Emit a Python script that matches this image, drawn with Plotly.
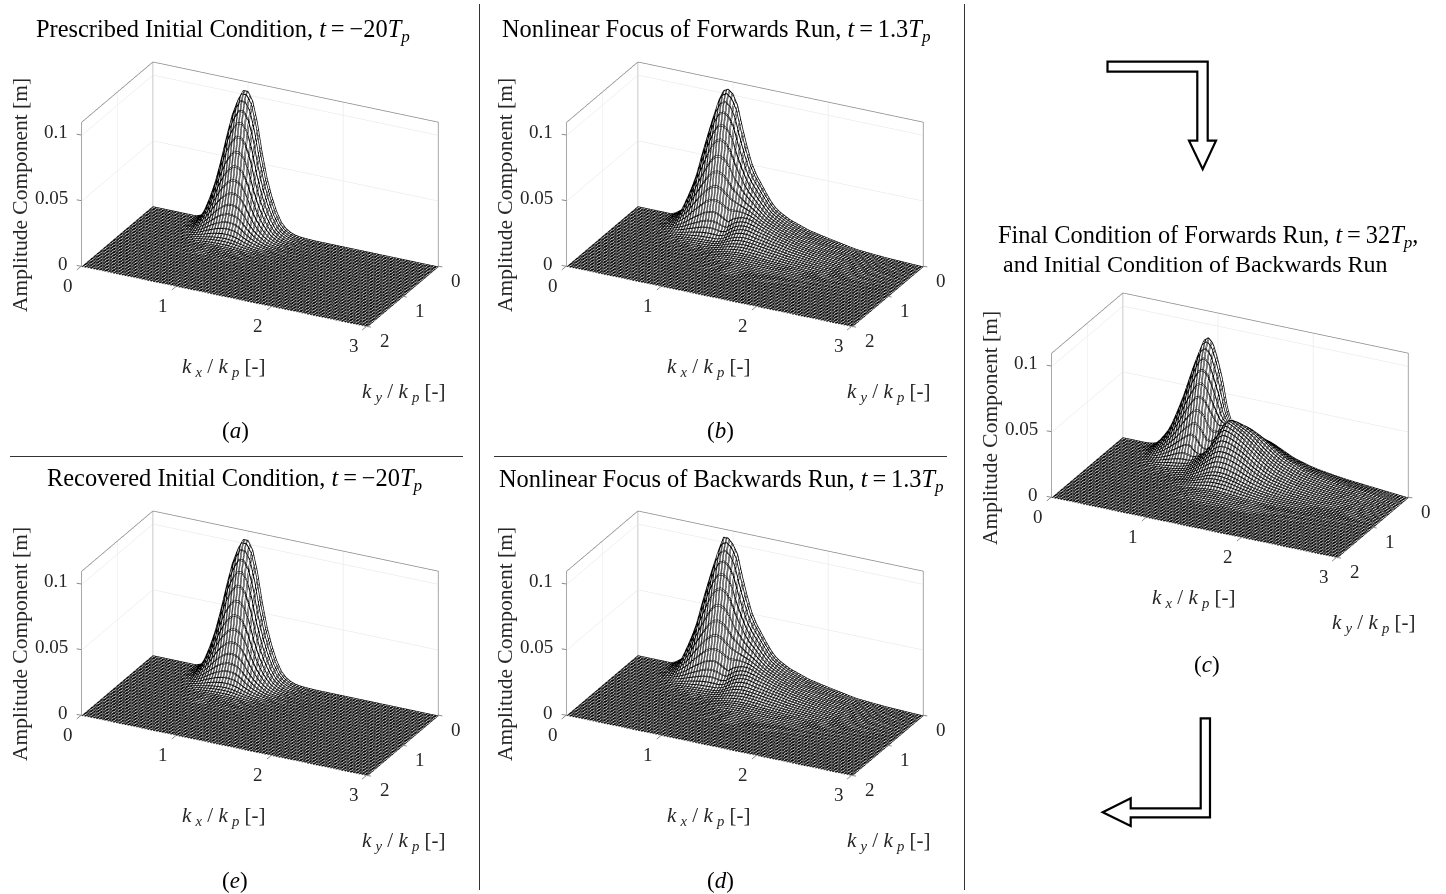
import numpy as np
import plotly.graph_objects as go

W, H = 1446, 894
FONT = "Liberation Serif"

KX_A = [0.50,0.55,0.60,0.65,0.70,0.75,0.80,0.85,0.90,0.95,1.00,1.05,1.10,1.15,1.20,1.25,1.30,1.35,1.40,1.45,1.50,1.55,1.60]
KY_A = [0,0.05,0.1,0.15,0.2,0.25,0.3,0.35,0.4,0.45,0.5,0.55,0.6,0.7]
# amplitude, in units of 1e-4 m
AMP_A = [
[12,45,125,240,370,532,705,855,960,1030,1030,965,805,585,405,270,165,90,48,25,12,6,3],
[12,44,122,235,363,521,691,838,941,1009,1009,946,789,573,397,265,162,88,47,25,12,6,3],
[11,41,115,220,339,488,646,784,880,945,945,885,738,536,371,248,151,83,44,23,11,6,3],
[10,37,103,198,305,438,580,704,790,848,848,794,663,481,333,222,136,74,40,21,10,5,2],
[8,32,88,170,262,376,498,604,679,728,728,682,569,414,286,191,117,64,34,18,8,4,2],
[7,26,72,139,215,309,409,496,557,597,597,560,467,339,235,157,96,52,28,15,7,3,2],
[5,21,57,110,169,244,323,392,440,472,472,442,369,268,185,124,76,41,22,11,5,3,1],
[4,16,43,83,128,184,243,295,331,355,355,333,278,202,140,93,57,31,17,9,4,2,1],
[3,11,31,60,92,132,176,213,239,256,256,240,200,146,101,67,41,22,12,6,3,1,1],
[2,8,22,41,64,92,121,147,165,177,177,166,138,101,70,46,28,15,8,4,2,1,1],
[1,5,14,27,42,61,80,97,109,117,117,110,92,67,46,31,19,10,5,3,1,1,0],
[1,3,9,17,27,38,51,62,69,74,74,69,58,42,29,19,12,6,3,2,1,0,0],
[1,2,6,11,16,23,31,38,42,45,45,42,35,26,18,12,7,4,2,1,1,0,0],
[0,1,2,3,5,7,10,12,13,14,14,14,11,8,6,4,2,1,1,0,0,0,0],
]

KX_B = [0.40,0.45,0.50,0.55,0.60,0.65,0.70,0.75,0.80,0.85,0.90,0.95,1.00,1.05,1.10,1.15,1.20,1.25,1.30,1.35,1.40,1.45,1.50,1.55,1.60,1.7,1.8,2.0,2.3,2.6]
KY_B = [0,0.05,0.1,0.15,0.2,0.25,0.3,0.35,0.4,0.45,0.5,0.55,0.6,0.7,0.8,1.0]
AMP_B = [
[15,42,85,185,285,400,555,690,820,940,1020,1040,1010,930,770,630,510,430,370,310,255,212,185,165,145,120,95,65,25,10],
[14,40,82,180,277,388,538,669,795,912,989,1009,980,902,750,617,500,424,367,308,253,211,184,164,145,120,95,65,25,10],
[13,37,76,166,256,360,500,620,738,846,918,936,909,837,700,580,475,405,352,298,247,207,181,162,143,119,94,64,25,10],
[11,33,68,148,228,320,444,552,656,752,816,832,808,744,625,525,438,375,328,280,235,198,175,157,140,117,93,64,25,10],
[9,28,58,126,194,272,377,469,558,639,694,707,687,632,535,460,392,340,300,260,222,190,170,153,137,115,92,63,25,10],
[7,22,46,100,154,216,300,373,443,508,551,562,545,502,430,385,340,305,275,242,210,182,164,149,133,112,90,62,24,10],
[5,17,35,76,117,164,228,283,336,385,418,426,414,380,335,310,285,262,242,220,196,174,158,144,129,109,88,60,24,9],
[4,12,25,54,83,116,161,200,238,273,296,302,293,268,250,245,240,232,222,205,185,166,152,138,124,105,85,58,23,9],
[3,8,16,35,54,76,105,131,156,179,194,198,190,165,145,175,190,200,200,190,175,158,145,132,118,100,81,55,22,9],
[2,5,10,22,34,48,66,82,98,112,122,124,118,105,105,135,160,172,175,168,158,146,135,124,111,94,76,52,20,8],
[1,3,6,13,20,28,39,49,58,67,72,74,72,68,78,105,130,145,152,150,140,130,122,113,102,87,70,47,18,7],
[1,2,4,8,12,17,23,29,34,39,42,43,44,46,58,80,105,122,130,130,122,112,105,98,90,77,62,42,16,6],
[0,1,2,5,7,10,14,17,20,23,25,26,28,32,44,62,82,96,104,106,102,96,90,84,77,66,53,36,14,5],
[0,0,1,2,3,4,5,7,8,9,10,11,13,17,25,36,48,57,64,68,68,65,62,58,53,46,37,25,10,4],
[0,0,0,1,1,2,2,3,3,4,4,5,6,8,12,18,25,31,36,39,40,39,37,34,31,27,22,15,6,2],
[0,0,0,0,0,0,0,1,1,1,1,1,1,2,3,5,7,9,11,12,13,13,12,12,11,9,8,5,2,1],
]
# panel (d) reads the same as (b) except for its flatter crest
AMP_D = [list(row) for row in AMP_B]
AMP_D[0][10] = 1040
AMP_D[0][12] = 1000

KX_C = [0.30,0.35,0.40,0.45,0.50,0.55,0.60,0.65,0.70,0.75,0.80,0.85,0.90,0.95,1.00,1.05,1.10,1.15,1.20,1.25,1.30,1.35,1.40,1.45,1.50,1.55,1.60,1.7,1.8,2.0,2.3,2.6]
KY_C = KY_B
AMP_C = [
[5,14,50,100,155,235,333,435,550,670,775,870,900,860,745,600,395,285,230,215,220,225,225,220,215,205,190,155,120,78,45,25],
[5,14,49,97,150,228,323,422,534,650,752,845,875,836,725,585,395,295,245,235,245,250,245,240,232,220,205,165,130,85,50,28],
[4,12,45,90,140,212,300,392,495,603,698,785,812,775,672,545,385,310,270,265,275,280,275,265,255,240,220,180,140,92,55,32],
[4,11,40,80,124,188,266,348,440,536,620,696,720,688,596,490,365,320,300,305,315,315,310,298,280,260,238,190,150,97,58,35],
[3,9,33,67,104,158,223,291,368,449,519,583,603,576,500,420,345,325,330,345,350,345,335,320,298,275,250,198,158,100,60,38],
[2,7,27,54,84,127,180,235,297,362,419,471,486,465,403,345,310,320,355,378,375,362,348,330,308,282,255,198,155,98,58,36],
[2,5,20,41,64,96,137,178,226,275,318,357,369,340,260,230,260,310,365,398,385,368,352,332,308,278,245,190,148,92,54,34],
[1,4,15,30,47,71,100,131,165,201,233,262,250,185,150,170,225,300,365,403,385,365,345,322,294,263,230,178,138,86,50,32],
[1,2,10,21,33,49,69,91,115,140,162,170,130,110,125,160,215,290,360,400,380,360,338,312,284,253,222,170,130,80,46,30],
[0,1,6,14,21,32,45,59,75,91,100,88,85,105,130,165,220,285,345,378,362,345,322,297,268,240,210,160,120,74,42,27],
[0,1,4,8,13,19,27,36,45,50,55,60,70,95,125,165,215,270,320,348,338,322,300,278,252,223,195,146,108,68,38,25],
[0,0,2,5,8,11,15,20,25,30,36,45,58,82,112,150,195,240,285,306,302,290,272,252,228,202,175,130,97,60,34,22],
[0,0,1,3,4,6,8,11,14,18,24,32,45,68,95,130,168,208,245,265,265,256,242,225,203,179,153,114,85,52,30,19],
[0,0,0,1,1,2,3,4,5,7,10,15,24,40,62,88,115,145,172,190,192,188,178,165,149,130,112,83,60,37,21,14],
[0,0,0,0,0,1,1,1,2,3,4,7,12,21,34,50,68,86,104,116,120,119,113,104,94,82,70,52,37,24,14,9],
[0,0,0,0,0,0,0,0,0,1,1,2,3,5,8,12,17,22,27,31,33,34,33,30,27,24,21,15,11,7,4,2],
]

KX_TICKS = [0, 1, 2, 3]
KY_TICKS = [0, 1, 2]
Z_TICKS = [0, 0.05, 0.1]
Z_TICK_TEXT = ["0", "0.05", "0.1"]
KX_MAX, KY_MAX, Z_MAX = 3, 2, 0.11
MESH_DKX, MESH_DKY = 0.03, 0.04

TITLES = {
    "a": "Prescribed Initial Condition, <i>t</i>\u2009=\u2009−20<i>T<sub>p</sub></i>",
    "b": "Nonlinear Focus of Forwards Run, <i>t</i>\u2009=\u20091.3<i>T<sub>p</sub></i>",
    "e": "Recovered Initial Condition, <i>t</i>\u2009=\u2009−20<i>T<sub>p</sub></i>",
    "d": "Nonlinear Focus of Backwards Run, <i>t</i>\u2009=\u20091.3<i>T<sub>p</sub></i>",
}
KX_LABEL = "<i>k\u2009<sub>x</sub></i> / <i>k\u2009<sub>p</sub></i> [-]"
KY_LABEL = "<i>k\u2009<sub>y</sub></i> / <i>k\u2009<sub>p</sub></i> [-]"
Z_LABEL = "Amplitude Component [m]"

PANELS = [
    ("a", KX_A, KY_A, AMP_A, 0, 0),
    ("b", KX_B, KY_B, AMP_B, 485, 0),
    ("e", KX_A, KY_A, AMP_A, 0, 449),
    ("d", KX_B, KY_B, AMP_D, 485, 449),
    ("c", KX_C, KY_C, AMP_C, 970, 231),
]
CX, CY = 259.5, 194
HALF_W, HALF_H = 215, 159.3
EYE = 2.0
EYE_DIR = (0.405, -0.811, 0.4226)
TICK_SIZE = 19
TICK_COLOR = "#262626"
AXIS_GREY = "#8a8a8a"


def px(x): return x / W
def py(y): return 1 - y / H


fig = go.Figure()
annotations = []
scenes = {}


def text(x, y, s, size, angle=0, color="#000", xanchor="center"):
    annotations.append(dict(x=px(x), y=py(y), xref="paper", yref="paper", text=s, showarrow=False,
                            textangle=angle, xanchor=xanchor, yanchor="middle",
                            font=dict(family=FONT, size=size, color=color)))


def tick_note(x, y, z, s, xshift, yshift, xanchor="center"):
    return dict(x=x, y=y, z=z, text=s, showarrow=False, xshift=xshift, yshift=yshift, xanchor=xanchor,
                yanchor="middle", font=dict(family=FONT, size=TICK_SIZE, color=TICK_COLOR))


def tick_mark(x, y, z, ax, ay):
    return dict(x=x, y=y, z=z, text=" ", showarrow=True, arrowhead=0, arrowwidth=1, arrowcolor=AXIS_GREY,
                ax=ax, ay=ay, standoff=0, font=dict(size=1))


for i, (name, kx, ky, amp, dx, dy) in enumerate(PANELS):
    sid = "scene" if i == 0 else f"scene{i+1}"
    xs = [0, kx[0] - 0.05] + list(kx) + ([KX_MAX] if kx[-1] > 2 else [kx[-1] + 0.1, KX_MAX])
    ys = list(ky) + [ky[-1] + 0.3, KY_MAX]
    table = np.array(amp, float) * 1e-4
    z = np.zeros((len(ys), len(xs)))
    z[:table.shape[0], 2:2 + table.shape[1]] = table
    # the second pass offsets the mesh by a fraction of a pixel so that its lines read as heavier strokes
    for off_x, off_y in ((0, 0), (0.009, 0.005)):
        fig.add_trace(go.Surface(
            x=xs, y=ys, z=z, scene=sid, showscale=False, hoverinfo="skip",
            colorscale=[[0, "#ffffff"], [1, "#ffffff"]],
            lighting=dict(ambient=1, diffuse=0, specular=0, roughness=1, fresnel=0),
            contours=dict(
                x=dict(show=True, start=off_x, end=KX_MAX, size=MESH_DKX, color="#000000", width=1, highlight=False),
                y=dict(show=True, start=off_y, end=KY_MAX, size=MESH_DKY, color="#000000", width=1, highlight=False),
                z=dict(highlight=False),
            ),
        ))
    fig.add_trace(go.Scatter3d(
        x=[0, 0, 0, KX_MAX, KX_MAX, None, 0, 0],
        y=[KY_MAX, KY_MAX, 0, 0, 0, None, 0, 0],
        z=[0, Z_MAX, Z_MAX, Z_MAX, 0, None, 0, Z_MAX],
        mode="lines", line=dict(color=AXIS_GREY, width=1.5), hoverinfo="skip", scene=sid, showlegend=False))

    cx, cy = CX + dx, CY + dy
    ax = dict(showbackground=False, showspikes=False, title=dict(text=""), showgrid=True,
              gridcolor="#e4e4e4", gridwidth=1, zeroline=False, showline=False, ticks="",
              showticklabels=False)
    notes = [tick_note(v, KY_MAX, 0, str(v), -13, -19) for v in KX_TICKS]
    notes += [tick_note(KX_MAX, v, 0, str(v), 18, -14) for v in KY_TICKS]
    notes += [tick_note(0, KY_MAX, v, t, -11, 3, "right") for v, t in zip(Z_TICKS, Z_TICK_TEXT)]
    notes += [tick_mark(v, KY_MAX, 0, -6, 5) for v in KX_TICKS]
    notes += [tick_mark(KX_MAX, v, 0, 6, 1) for v in KY_TICKS]
    notes += [tick_mark(0, KY_MAX, v, -6, -1) for v in Z_TICKS]
    scenes[sid] = dict(
        domain=dict(x=[px(cx - HALF_W), px(cx + HALF_W)], y=[py(cy + HALF_H), py(cy - HALF_H)]),
        aspectmode="manual", aspectratio=dict(x=2, y=1, z=1),
        camera=dict(projection=dict(type="orthographic"),
                    eye=dict(x=EYE * EYE_DIR[0], y=EYE * EYE_DIR[1], z=EYE * EYE_DIR[2]),
                    center=dict(x=0, y=0, z=0), up=dict(x=0, y=0, z=1)),
        xaxis=dict(ax, range=[0, KX_MAX], tickvals=KX_TICKS),
        yaxis=dict(ax, range=[KY_MAX, 0], tickvals=KY_TICKS),
        zaxis=dict(ax, range=[0, Z_MAX], tickvals=Z_TICKS),
        annotations=notes,
    )
    text(20 + dx, 195 + dy + (2 if name == "c" else 0), Z_LABEL, 21.5, angle=-90, color="#262626")
    text(224 + dx, 367 + dy, KX_LABEL, 21, color="#262626")
    text(404 + dx, 392 + dy, KY_LABEL, 21, color="#262626")

text(223, 31, TITLES["a"], 24.4)
text(716, 31, TITLES["b"], 24.4)
text(235, 479, TITLES["e"], 24.4)
text(721, 480, TITLES["d"], 24.4)
text(1208, 236, "Final Condition of Forwards Run, <i>t</i>\u2009=\u200932<i>T<sub>p</sub></i>,", 24.4)
text(1195, 264, "and Initial Condition of Backwards Run", 24)
text(235, 431, "(<i>a</i>)", 23)
text(720, 431, "(<i>b</i>)", 23)
text(235, 880, "(<i>e</i>)", 23)
text(720, 880, "(<i>d</i>)", 23)
text(1207, 664, "(<i>c</i>)", 23)


def line(x0, y0, x1, y1):
    return dict(type="line", xref="paper", yref="paper", x0=px(x0), y0=py(y0), x1=px(x1), y1=py(y1),
                line=dict(color="#333333", width=1))


def arrow(pts):
    d = "M " + " L ".join(f"{px(x):.5f} {py(y):.5f}" for x, y in pts) + " Z"
    return dict(type="path", xref="paper", yref="paper", path=d, fillcolor="#ffffff",
                line=dict(color="#000000", width=2.2))


ARROW_TOP = [(1107.5, 61.7), (1207.7, 61.7), (1207.7, 140.7), (1216, 140.7), (1202.7, 169.3),
             (1189, 140.7), (1197.3, 140.7), (1197.3, 71.7), (1107.5, 71.7)]
ARROW_BOTTOM = [(1200.7, 718.3), (1210, 718.3), (1210, 817.3), (1130.7, 817.3), (1130.7, 826),
                (1102.7, 812.3), (1130.7, 798.3), (1130.7, 808.3), (1200.7, 808.3)]
shapes = [line(479.5, 4, 479.5, 890), line(964.5, 4, 964.5, 890),
          line(10, 456.5, 463, 456.5), line(494, 456.5, 947, 456.5),
          arrow(ARROW_TOP), arrow(ARROW_BOTTOM)]

fig.update_layout(width=W, height=H, margin=dict(l=0, r=0, t=0, b=0), paper_bgcolor="#fff",
                  showlegend=False, annotations=annotations, shapes=shapes, **scenes)
fig.write_html("out.html", config=dict(displayModeBar=False),
               post_script="document.body.style.margin='0';")
